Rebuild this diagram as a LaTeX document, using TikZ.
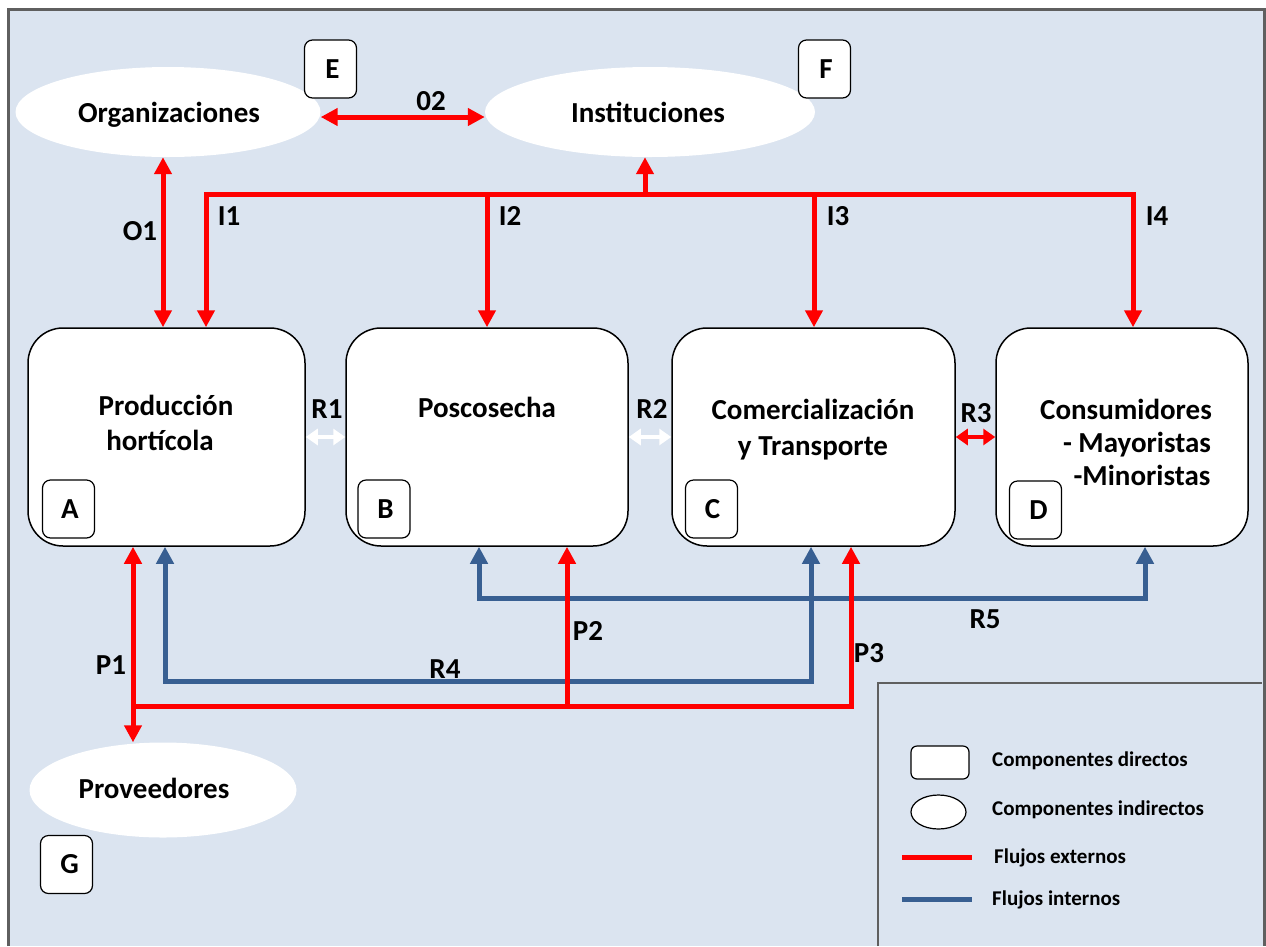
\documentclass[tikz,border=0pt]{standalone}
\usepackage{fontspec}
\setmainfont{Carlito}
\usetikzlibrary{arrows.meta,shapes.geometric,calc}
\definecolor{bgblue}{HTML}{DBE4F0}
\definecolor{flowblue}{HTML}{385F92}
\definecolor{framegray}{HTML}{5F5F5F}
\newcommand\mainlbl{\fontsize{29}{33}\selectfont\bfseries}
\newcommand\leglbl{\fontsize{21}{24}\selectfont\bfseries}
\tikzset{
  dbox/.style={draw=black, line width=1.5pt, fill=white, rounded corners=35pt, inner sep=0pt},
  lbox/.style={draw=black, line width=1.2pt, fill=white, rounded corners=8pt, inner sep=0pt,
               minimum width=52pt, minimum height=58pt, font=\mainlbl},
  indir/.style={ellipse, fill=white, inner sep=0pt},
  txt/.style={font=\mainlbl, inner sep=0pt, anchor=base},
  legtxt/.style={font=\leglbl, inner sep=0pt, anchor=base west},
  ext/.style={draw=red, line width=5pt},
  int/.style={draw=flowblue, line width=5pt},
  wflow/.style={draw=white, line width=4pt},
  tp/.tip={Triangle[width=17pt,length=17pt]},
  stp/.tip={Triangle[width=16pt,length=12pt]},
}
\begin{document}
\begin{tikzpicture}[x=1pt,y=-1pt]
\useasboundingbox (0,0) rectangle (1266,946);
% background frame
\fill[bgblue] (8,9) rectangle (1264,946);
\draw[framegray, line width=3pt] (8,946) -- (8,9) -- (1264,9) -- (1264,946);

% indirect components
\node[indir, minimum width=305pt, minimum height=90pt] (Org) at (168,112) {};
\node[indir, minimum width=330pt, minimum height=90pt] (Inst) at (650,112) {};
\node[indir, minimum width=267pt, minimum height=95pt] (Prov) at (163,790) {};
\node[txt] (tOrg) at (169,122) {Organizaciones};
\node[txt] (tInst) at (648,122) {Instituciones};
\node[txt] (tProv) at (154,798) {Proveedores};

% direct components
\node[dbox, minimum width=277pt, minimum height=218pt] (A) at (166.5,437) {};
\node[dbox, minimum width=282pt, minimum height=218pt] (B) at (487,437) {};
\node[dbox, minimum width=283pt, minimum height=218pt] (C) at (813.5,437) {};
\node[dbox, minimum width=252pt, minimum height=218pt] (D) at (1122,437) {};

\node[txt] (tA1) at (166,415) {Producción};
\node[txt] (tA2) at (160,450) {hortícola};
\node[txt] (tB1) at (487,417) {Poscosecha};
\node[txt] (tC1) at (813,419) {Comercialización};
\node[txt] (tC2) at (813,455) {y Transporte};
\node[txt] (tD1) at (1126,419) {Consumidores};
\node[txt] (tD2) at (1137,452) {- Mayoristas};
\node[txt] (tD3) at (1142,485) {-Minoristas};

% letter boxes
\node[lbox] (lE) at (330.5,69) {\hspace*{4pt}E};
\node[lbox] (lF) at (824.5,69) {\hspace*{3pt}F};
\node[lbox] (lG) at (66.5,864.5) {\hspace*{6pt}G};
\node[lbox] (lA) at (68.5,509) {\hspace*{3pt}A};
\node[lbox] (lB) at (384,509) {\hspace*{3pt}B};
\node[lbox] (lC) at (711.5,509) {\hspace*{2pt}C};
\node[lbox] (lD) at (1035.5,510) {\hspace*{6pt}D};

% helper coordinates
\coordinate (xO1) at (163,0);
\coordinate (yO2) at (0,117);
\coordinate (Ibar) at (0,194);
\coordinate (xI1) at (206,0);
\coordinate (xI2) at (487,0);
\coordinate (xI3) at (814,0);
\coordinate (xI4) at (1133,0);
\coordinate (xIup) at (645,0);
\coordinate (xP1) at (133,0);
\coordinate (xP2) at (567,0);
\coordinate (xP3) at (851,0);
\coordinate (Pbar) at (0,706);
\coordinate (xR4a) at (165,0);
\coordinate (xR4b) at (811,0);
\coordinate (R4bar) at (0,681);
\coordinate (xR5a) at (479,0);
\coordinate (xR5b) at (1145,0);
\coordinate (R5bar) at (0,598);

% internal flows
\draw[int, {tp}-{tp}] (xR4a |- A.south) -- (xR4a |- R4bar) -- (xR4b |- R4bar) -- (xR4b |- C.south);
\draw[int, {tp}-{tp}] (xR5a |- B.south) -- (xR5a |- R5bar) -- (xR5b |- R5bar) -- (xR5b |- D.south);

% external flows
\draw[ext, {tp}-{tp}] (Org.east |- yO2) -- (Inst.west |- yO2);
\draw[ext, {tp}-{tp}] (xO1 |- Org.south) -- (xO1 |- A.north);
\draw[ext, {tp}-{tp}] (xI1 |- A.north) -- (xI1 |- Ibar) -- (xI4 |- Ibar) -- (xI4 |- D.north);
\draw[ext, -{tp}] (xI2 |- Ibar) -- (B.north);
\draw[ext, -{tp}] (xI3 |- Ibar) -- (xI3 |- C.north);
\draw[ext, -{tp}] (xIup |- Ibar) -- (xIup |- Inst.south);
\draw[ext, {tp}-{tp}] (xP1 |- A.south) -- (xP1 |- Prov.north);
\draw[ext, -{tp}] (xP1 |- Pbar) -- (xP3 |- Pbar) -- (xP3 |- C.south);
\draw[ext, -{tp}] (xP2 |- Pbar) -- (xP2 |- B.south);
\draw[wflow, {stp}-{stp}] (A.east) -- (B.west);
\draw[wflow, {stp}-{stp}] (B.east) -- (C.west);
\draw[ext, line width=4pt, {stp}-{stp}] (C.east) -- (D.west);

% flow labels
\node[txt] (l02) at (431,110) {02};
\node[txt] (lO1) at (140,240) {O1};
\node[txt] (lI1) at (229,225) {I1};
\node[txt] (lI2) at (510,225) {I2};
\node[txt] (lI3) at (838,225) {I3};
\node[txt] (lI4) at (1157,225) {I4};
\node[txt] (lR1) at (327,418) {R1};
\node[txt] (lR2) at (652,418) {R2};
\node[txt] (lR3) at (976,422) {R3};
\node[txt] (lR4) at (445,678) {R4};
\node[txt] (lR5) at (985,628) {R5};
\node[txt] (lP1) at (111,674) {P1};
\node[txt] (lP2) at (588,640) {P2};
\node[txt] (lP3) at (869,662) {P3};

% legend
\draw[framegray, line width=2.5pt] (878,946) -- (878,683) -- (1262,683);
\node[draw=black, line width=1.2pt, fill=white, rounded corners=6pt, inner sep=0pt,
      minimum width=58pt, minimum height=33pt] (legD) at (940,762.5) {};
\node[ellipse, draw=black, line width=1.2pt, fill=white, inner sep=0pt,
      minimum width=55pt, minimum height=34pt] (legI) at (938.5,812) {};
\coordinate (legE1) at (902,857);
\coordinate (legE2) at (972,857);
\coordinate (legN1) at (902,899);
\coordinate (legN2) at (972,899);
\draw[ext] (legE1) -- (legE2);
\draw[int] (legN1) -- (legN2);
\node[legtxt] (tlegD) at (992,766) {Componentes directos};
\node[legtxt] (tlegI) at (992,815) {Componentes indirectos};
\node[legtxt] (tlegE) at (994,863) {Flujos externos};
\node[legtxt] (tlegN) at (992,905) {Flujos internos};
\end{tikzpicture}
\end{document}
